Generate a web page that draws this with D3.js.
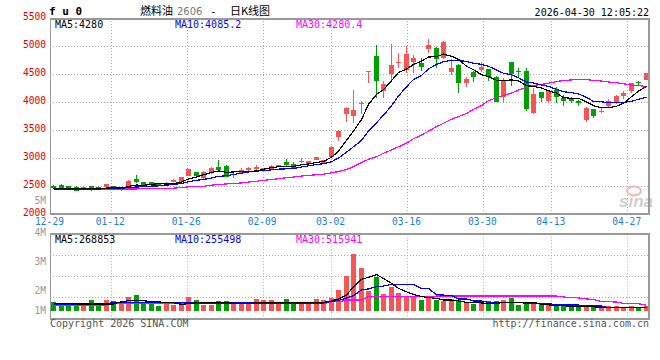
<!DOCTYPE html>
<html><head><meta charset="utf-8">
<script src="https://cdn.jsdelivr.net/npm/d3@7"></script>
<style>
body{margin:0;background:#fff;}
svg{display:block;}
text{font-family:"DejaVu Sans Mono","Liberation Mono",monospace;font-size:10px;}
</style></head><body>
<svg id="c" width="660" height="360"></svg>
<script>
// ---------- data ----------
const dates = ["12-29","12-30","12-31","01-05","01-06","01-07","01-08","01-09",
"01-12","01-13","01-14","01-15","01-16","01-19","01-20","01-21","01-22","01-23",
"01-26","01-27","01-28","01-29","01-30","02-02","02-03","02-04","02-05","02-06",
"02-09","02-10","02-11","02-12","02-13","02-24","02-25","02-26","02-27",
"03-02","03-03","03-04","03-05","03-06","03-09","03-10","03-11","03-12","03-13",
"03-16","03-17","03-18","03-19","03-20","03-23","03-24","03-25","03-26","03-27",
"03-30","03-31","04-01","04-02","04-03","04-07","04-08","04-09","04-10",
"04-13","04-14","04-15","04-16","04-17","04-20","04-21","04-22","04-23","04-24",
"04-27","04-28","04-29","04-30"];
const openP = [2505,2512,2500,2488,2452,2500,2482,2477,2495,2429,2488,2625,2571,2571,2548,2530,2571,2571,2679,2750,
2637,2727,2845,2862,2700,2727,2780,2798,2762,2809,2845,2934,2893,2940,2893,2964,2916,3012,3370,3786,
3750,3980,4536,4821,4196,4495,4710,4571,4720,4702,4941,4959,4780,4530,4661,4334,4541,4571,4584,4452,
4095,4709,4545,4554,3798,4173,4023,4214,4077,4066,4023,3679,3875,3830,3934,3995,4107,4202,4350,4393];
const closeP = [2462,2459,2455,2416,2482,2440,2446,2530,2446,2446,2595,2566,2512,2524,2512,2559,2612,2655,2798,2679,
2755,2827,2786,2666,2722,2786,2827,2845,2816,2862,2875,2875,2827,2946,2946,3012,2964,3202,3487,3898,
3857,3988,4554,4380,4321,4661,4720,4857,4786,4630,5018,4762,5077,4602,4345,4411,4452,4630,4441,4005,
4393,4500,4536,3875,4143,4066,4202,4095,4023,4023,3977,3898,3755,3840,4018,4112,4166,4334,4345,4512];
const highP = [2518,2530,2508,2495,2490,2505,2490,2540,2500,2452,2605,2696,2580,2580,2555,2566,2620,2662,2810,2757,
2762,2835,2964,2870,2730,2827,2835,2870,2825,2870,2880,2982,2928,2995,2955,3020,2970,3210,3495,3905,
4214,4018,4560,5018,4380,5036,4880,5000,4840,4780,5125,4980,5085,4762,4670,4441,4550,4720,4590,4460,
4423,4720,4612,4612,4245,4180,4210,4273,4125,4095,4030,3905,3880,3898,4055,4120,4196,4340,4375,4520];
const lowP = [2455,2452,2450,2410,2445,2418,2440,2470,2440,2418,2482,2555,2505,2518,2505,2524,2566,2566,2672,2672,
2630,2720,2780,2660,2648,2720,2775,2755,2755,2800,2840,2862,2816,2916,2887,2958,2910,3005,3304,3648,
3630,3786,4334,4066,4077,4380,4602,4523,4523,4553,4870,4602,4770,4482,4155,4262,4362,4530,4375,3995,
4005,4286,4452,3840,3790,4005,3977,3988,3934,3977,3929,3648,3720,3798,3905,3964,4048,4155,4304,4385];
const ma5P = [2462,2460,2458,2455,2455,2450,2448,2463,2469,2462,2493,2517,2513,2529,2542,2535,2544,2572,2627,2661,
2700,2743,2769,2743,2751,2757,2757,2769,2799,2827,2845,2855,2851,2877,2894,2921,2939,3014,3122,3313,
3482,3686,3957,4135,4220,4381,4527,4588,4669,4731,4802,4811,4855,4818,4761,4639,4577,4488,4456,4388,
4384,4394,4375,4290,4280,4250,4200,4160,4080,4066,4066,4003,3935,3899,3898,3925,3978,4094,4195,4280];
const ma10P = [2448,2448,2447,2446,2447,2446,2446,2452,2455,2458,2472,2482,2488,2499,2502,2514,2530,2543,2578,2601,
2617,2643,2671,2685,2706,2729,2750,2769,2771,2789,2801,2806,2810,2838,2861,2883,2897,2933,3000,3103,
3201,3313,3485,3629,3766,3931,4107,4272,4402,4475,4592,4669,4721,4743,4746,4721,4694,4671,4637,4574,
4512,4486,4432,4359,4339,4304,4279,4226,4184,4166,4144,4084,4006,4002,3990,3994,3991,4015,4047,4085];
const ma30P = [2441,2441,2441,2441,2441,2441,2443,2446,2446,2446,2446,2448,2450,2455,2459,2460,2462,2470,2485,2488,
2495,2515,2528,2537,2545,2555,2570,2585,2600,2615,2630,2648,2660,2678,2690,2700,2712,2735,2758,2795,
2845,2920,2975,3023,3085,3143,3200,3265,3345,3410,3480,3560,3620,3691,3740,3795,3870,3935,4025,4075,
4115,4160,4214,4260,4295,4315,4334,4365,4385,4393,4405,4400,4385,4375,4358,4345,4325,4305,4290,4280];
// volume, in 10k lots
const volume = [45,40,40,40,31,56,40,56,54,35,73,83,45,40,26,37,31,31,73,56,
31,31,51,51,35,40,37,63,56,56,40,63,40,40,40,63,56,68,110,184,
297,226,104,179,89,124,94,80,80,57,80,57,52,63,57,43,37,43,52,52,
57,69,31,40,40,40,31,31,31,22,22,22,22,17,26,26,22,26,22,26];
const volMa5 = [40,40,40,37,37,37,37,37,37,48,54,54,54,48,48,43,43,35,38,44,
44,44,46,44,40,38,38,43,45,45,45,45,45,45,45,45,45,52,63,83,
127,165,176,190,170,144,118,100,87,75,70,66,57,57,52,45,45,42,40,40,
44,45,45,45,45,35,32,28,28,24,22,22,22,18,17,17,17,17,17,17];
const volMa10 = [35,35,35,35,35,35,35,38,45,45,45,45,45,45,45,45,45,45,42,42,
42,42,42,42,42,42,42,42,42,42,42,42,42,42,42,42,42,50,55,68,
80,110,115,127,130,139,139,139,139,118,118,85,83,80,63,63,52,52,45,45,
45,45,45,40,40,40,40,31,31,31,31,26,26,26,17,17,17,17,17,17];
const volMa30 = [31,31,31,31,31,31,31,31,38,38,38,38,38,38,38,38,38,38,38,38,
38,38,38,38,38,38,38,38,38,38,38,38,38,38,38,38,38,48,48,57,
57,57,75,75,75,75,75,75,75,75,75,78,78,78,78,78,78,78,78,78,
78,78,78,78,78,78,78,78,73,70,68,63,60,50,48,47,40,40,38,30];
const priceTicks = [2000,2500,3000,3500,4000,4500,5000,5500];
const dateTickIdx = [0,8,18,28,37,47,57,66,76];
const volAxisLabels = ["4M","3M","2M","1M"];
const legendMain = [["MA5:4280","#000"],["MA10:4085.2","#0000ff"],["MA30:4280.4","#ff00ff"]];
const legendVol = [["MA5:268853","#000"],["MA10:255498","#0000ff"],["MA30:515941","#ff00ff"]];

// ---------- layout ----------
const L = 50, R = 650;
const mainTop = 18, mainBot = 214;
const volTop = 234.3, volBot = 318.3;
const RED = "#f75454", GREEN = "#00a000", GRID = "#aaaaaa", FRAME = "#999999";
const n = dates.length;

const svg = d3.select("#c");
const x = d3.scaleBand().domain(d3.range(n)).range([L, R]).paddingInner(1/3).paddingOuter(1/6);
const xg = d3.scaleLinear().domain([0, n - 1]).range([L, R]);
const y = d3.scaleLinear().domain([2000, 5500]).range([mainBot, mainTop]);
const vy = d3.scaleLinear().domain([0, 400]).range([311, volTop]);
const vgrid = d3.scaleLinear().domain([0, 4]).range([volBot, volTop]);

const cx = i => Math.round(x(i)) + 2.5;

// ---------- grid ----------
const g = svg.append("g");
priceTicks.filter(t => t > 2000 && t < 5500).forEach(t => {
  g.append("line").attr("x1", L).attr("x2", R).attr("y1", Math.round(y(t)) + 0.5).attr("y2", Math.round(y(t)) + 0.5)
   .attr("stroke", GRID).attr("stroke-dasharray", "1,2");
});
[1,2,3].forEach(k => {
  g.append("line").attr("x1", L).attr("x2", R).attr("y1", Math.round(vgrid(k)) + 0.5).attr("y2", Math.round(vgrid(k)) + 0.5)
   .attr("stroke", GRID).attr("stroke-dasharray", "1,2");
});
dateTickIdx.filter(i => i > 0).forEach(i => {
  const xx = Math.round(xg(i)) + 0.5;
  g.append("line").attr("x1", xx).attr("x2", xx).attr("y1", mainTop).attr("y2", mainBot)
   .attr("stroke", GRID).attr("stroke-dasharray", "1,2");
  g.append("line").attr("x1", xx).attr("x2", xx).attr("y1", volTop).attr("y2", volBot)
   .attr("stroke", GRID).attr("stroke-dasharray", "1,2");
});

// watermark
const wm = svg.append("g");
wm.append("ellipse").attr("cx", 634).attr("cy", 191).attr("rx", 7).attr("ry", 4.5)
  .attr("fill", "none").attr("stroke", "#f2b8b8").attr("stroke-width", 2);
wm.append("text").attr("x", 619).attr("y", 207).text("sina")
  .style("font-family", "Liberation Sans, Arial, sans-serif").style("font-size", "17px")
  .style("font-style", "italic").style("font-weight", "bold").attr("fill", "#cfcfcf");

// ---------- candles ----------
const cg = svg.append("g").attr("shape-rendering", "crispEdges");
d3.range(n).forEach(i => {
  const up = closeP[i] >= openP[i];
  const col = up ? RED : GREEN;
  const c = cx(i);
  cg.append("line").attr("x1", c).attr("x2", c).attr("y1", y(highP[i])).attr("y2", y(lowP[i])).attr("stroke", col);
  const top = Math.min(y(openP[i]), y(closeP[i]));
  const h = Math.max(1, Math.abs(y(openP[i]) - y(closeP[i])));
  cg.append("rect").attr("x", Math.round(x(i))).attr("y", top).attr("width", x.bandwidth()).attr("height", h).attr("fill", col);
});

// ---------- volume bars ----------
const vg = svg.append("g").attr("shape-rendering", "crispEdges");
vg.selectAll("rect").data(volume).join("rect")
  .attr("x", (d, i) => Math.round(x(i))).attr("y", d => vy(d))
  .attr("width", x.bandwidth()).attr("height", d => vy(0) - vy(d))
  .attr("fill", (d, i) => closeP[i] >= openP[i] ? RED : GREEN);

// ---------- MA lines ----------
const lineP = d3.line().x((d, i) => cx(i)).y(d => y(d));
const lineV = d3.line().x((d, i) => cx(i)).y(d => vy(d));
const lg = svg.append("g").attr("fill", "none").attr("shape-rendering", "crispEdges");
[[ma30P, "#ff00ff"], [ma10P, "#0000ff"], [ma5P, "#000000"]].forEach(([d, c]) =>
  lg.append("path").attr("d", lineP(d)).attr("stroke", c).attr("stroke-width", 1.2));
[[volMa30, "#ff00ff"], [volMa10, "#0000ff"], [volMa5, "#000000"]].forEach(([d, c]) =>
  lg.append("path").attr("d", lineV(d)).attr("stroke", c).attr("stroke-width", 1.2));

// ---------- frames ----------
const fr = svg.append("g").attr("stroke", FRAME).attr("shape-rendering", "crispEdges");
fr.append("line").attr("x1", L).attr("x2", R).attr("y1", 19).attr("y2", 19).attr("stroke-width", 2);
fr.append("line").attr("x1", L).attr("x2", R).attr("y1", 213.5).attr("y2", 213.5).attr("stroke-width", 2);
fr.append("line").attr("x1", 649).attr("x2", 649).attr("y1", 18).attr("y2", 214.5).attr("stroke-width", 2);
fr.append("line").attr("x1", 50.5).attr("x2", 50.5).attr("y1", 18).attr("y2", 214.5).attr("stroke-width", 1);
fr.append("line").attr("x1", L).attr("x2", R).attr("y1", 234.3).attr("y2", 234.3).attr("stroke-width", 2);
fr.append("line").attr("x1", L).attr("x2", R).attr("y1", 318.5).attr("y2", 318.5).attr("stroke-width", 2);
fr.append("line").attr("x1", 649).attr("x2", 649).attr("y1", 233.3).attr("y2", 319.5).attr("stroke-width", 2);
fr.append("line").attr("x1", 50.5).attr("x2", 50.5).attr("y1", 233.3).attr("y2", 319.5).attr("stroke-width", 1);

// ---------- axes ----------
const yAxis = svg.append("g").attr("transform", `translate(${L},-1.4)`)
  .call(d3.axisLeft(y).tickValues(priceTicks).tickSize(0).tickPadding(4).tickFormat(d3.format("d")));
yAxis.select(".domain").remove();
yAxis.selectAll("text").attr("fill", "#e00000").style("font-size", "9.6px")
  .style("font-family", "DejaVu Sans Mono, monospace");

const xAxis = svg.append("g").attr("transform", "translate(-1,218.5)")
  .call(d3.axisBottom(xg).tickValues(dateTickIdx).tickSize(0).tickPadding(0).tickFormat(i => dates[i]));
xAxis.select(".domain").remove();
xAxis.selectAll("text").attr("fill", "#1a7fd4").style("font-size", "9.6px")
  .style("font-family", "DejaVu Sans Mono, monospace");

// volume axis labels (as drawn by the source chart)
const volLabelY = {"4M": 235.8, "3M": 265, "2M": 293.5, "1M": 314};
volAxisLabels.forEach(t => svg.append("text").attr("x", 46).attr("y", volLabelY[t])
  .attr("text-anchor", "end").attr("fill", "#999").style("font-size", "9.6px").text(t));
svg.append("text").attr("x", 46).attr("y", 204).attr("text-anchor", "end").attr("fill", "#999")
  .style("font-size", "9.6px").text("5M");

// ---------- legends ----------
const legX = [55, 175, 296];
legendMain.forEach(([t, c], k) => svg.append("text").attr("x", legX[k]).attr("y", 28).attr("fill", c).text(t));
legendVol.forEach(([t, c], k) => svg.append("text").attr("x", legX[k]).attr("y", 242.5).attr("fill", c).text(t));

// ---------- titles ----------
svg.append("text").attr("x", 49).attr("y", 15).text("f u 0")
  .style("font-weight", "bold").style("font-size", "11px").attr("fill", "#000");
const cjk = "'Noto Sans CJK SC', sans-serif";
svg.append("text").attr("x", 140).attr("y", 14.5).text("燃料油").style("font-family", cjk).style("font-size", "11px");
svg.append("text").attr("x", 177).attr("y", 14.5).text("2606").style("font-family", "DejaVu Sans, sans-serif")
  .style("font-size", "10px").attr("fill", "#777");
svg.append("text").attr("x", 210).attr("y", 14.5).text("-").style("font-family", "DejaVu Sans Mono, monospace").style("font-size", "11px");
svg.append("text").attr("x", 230).attr("y", 14.5).text("日K线图").style("font-family", cjk).style("font-size", "11px");
svg.append("text").attr("x", 649).attr("y", 15.5).attr("text-anchor", "end").text("2026-04-30 12:05:22");

svg.append("text").attr("x", 50).attr("y", 327).attr("fill", "#555").text("Copyright 2026 SINA.COM");
svg.append("text").attr("x", 649).attr("y", 327).attr("text-anchor", "end").attr("fill", "#555").text("http://finance.sina.com.cn");
</script>
</body></html>
